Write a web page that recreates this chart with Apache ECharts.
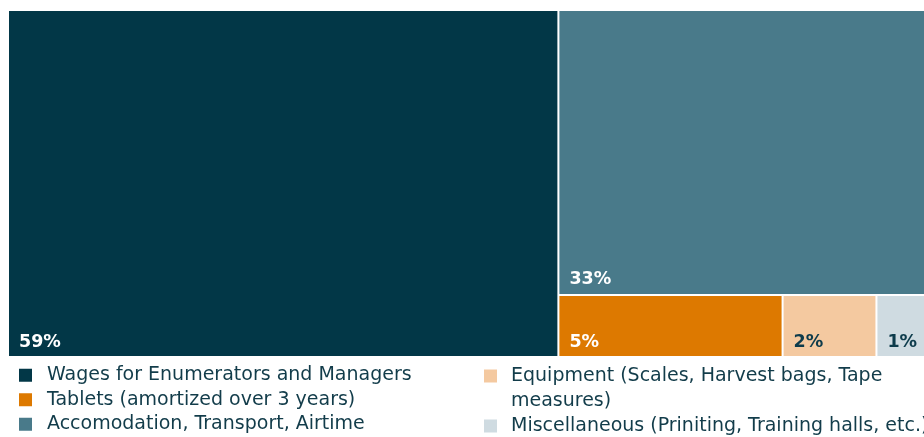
<!DOCTYPE html>
<html><head><meta charset="utf-8">
<script src="https://cdn.jsdelivr.net/npm/echarts@6/dist/echarts.min.js"></script>
<style>html,body{margin:0;padding:0;background:#fff;overflow:hidden}#chart{width:924px;height:437px}</style>
</head><body><div id="chart"></div>
<script>
const categories = [
  'Wages for Enumerators and Managers',
  'Tablets (amortized over 3 years)',
  'Accomodation, Transport, Airtime',
  'Equipment (Scales, Harvest bags, Tape measures)',
  'Miscellaneous (Priniting, Training halls, etc.)'
];
// cell sizes (share of total area, %)
const areaShare = [59, 4.3, 33.5, 1.8, 1.2];
// percentages printed in the cells
const shareLabels = ['59%', '5%', '33%', '2%', '1%'];
const colors = ['#023747', '#dd7900', '#497a8a', '#f4c9a0', '#cfdbe1'];
const labelColors = ['#ffffff', '#ffffff', '#ffffff', '#0d3b4b', '#0d3b4b'];
const legendLeftColumn = [0, 1, 2];
const legendRightColumn = [3, 4];

const FONT = 'DejaVu Sans';
const TEXT = '#123c4a';

function leaf(i) {
  return { name: categories[i], value: areaShare[i], itemStyle: { color: colors[i] }, label: { color: labelColors[i] } };
}

const treeData = [
  leaf(0),
  { name: 'rest', children: [
    leaf(2),
    { name: 'small', children: [leaf(1), leaf(3), leaf(4)] }
  ] }
];

const chart = echarts.init(document.getElementById('chart'), null, { renderer: 'canvas' });
const legendBase = {
  orient: 'vertical', padding: 0, itemGap: 0, itemWidth: 13, itemHeight: 13, icon: 'rect',
  selectedMode: false, height: 120
};
chart.setOption({
  animation: false,
  grid: { show: false, left: 0, top: 0, width: 1, height: 1 },
  xAxis: { show: false, type: 'category' },
  yAxis: { show: false, type: 'value' },
  legend: [
    Object.assign({}, legendBase, {
      left: 19, top: 363,
      textStyle: { fontFamily: FONT, fontSize: 19, color: TEXT, lineHeight: 24.5, padding: [0, 0, 0, 10] },
      data: legendLeftColumn.map(i => categories[i])
    }),
    Object.assign({}, legendBase, {
      left: 484, top: 338.5,
      textStyle: { fontFamily: FONT, fontSize: 19, color: TEXT, lineHeight: 25, padding: [0, 0, 0, 9] },
      // wrap the long name; a blank first line keeps the icon level with the first text line
      formatter: name => name.indexOf(' measures') >= 0 ? ' \n' + name.replace(' measures', '\nmeasures') : name,
      data: legendRightColumn.map(i => categories[i])
    })
  ],
  series: [
    {
      type: 'treemap',
      left: 9, top: 11, width: 929, height: 345,
      squareRatio: 2.8,
      roam: false, nodeClick: false,
      breadcrumb: { show: false },
      itemStyle: { borderWidth: 0, gapWidth: 2, borderColor: '#ffffff' },
      upperLabel: { show: false },
      label: {
        show: true, position: 'insideBottomLeft', distance: 5, padding: [0, 0, 0, 5],
        fontFamily: FONT, fontSize: 17.5, fontWeight: 'bold',
        formatter: p => { const i = categories.indexOf(p.name); return i >= 0 ? shareLabels[i] : ''; }
      },
      emphasis: { disabled: true },
      data: treeData
    }
  ].concat(categories.map((c, i) => ({
    type: 'bar', name: c, data: [], itemStyle: { color: colors[i] }
  })))
});
</script>
</body></html>
